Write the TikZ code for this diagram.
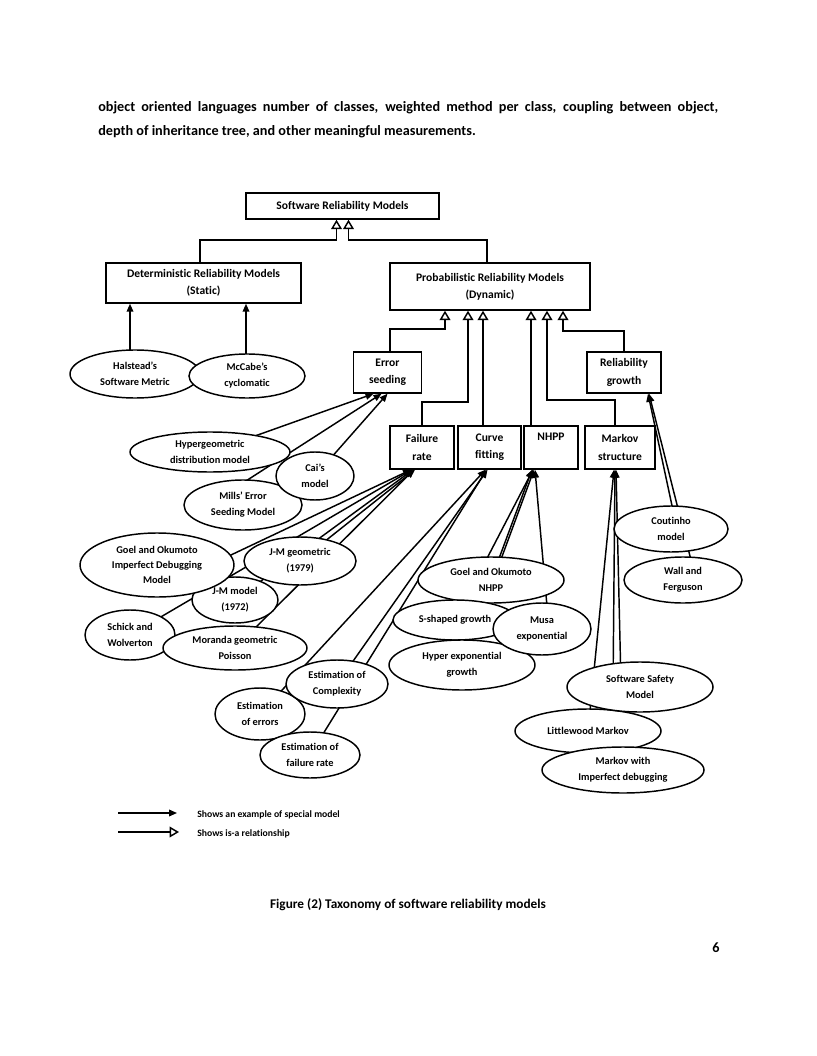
\documentclass[tikz,border=0pt]{standalone}
\usepackage{fontspec}
\setmainfont{Carlito}[Ligatures={NoCommon,NoContextual}]
\usetikzlibrary{arrows.meta,shapes.geometric,calc}
\pgfdeclarelayer{bg}
\pgfsetlayers{bg,main}
\tikzset{
  lw/.style={line width=1.1pt},
  box/.style 2 args={draw, lw, fill=white, inner sep=0pt, align=center,
    font=\fontsize{8.7}{13}\bfseries\selectfont,
    minimum width=#1*0.75bp, minimum height=#2*0.75bp},
  ell/.style 2 args={ellipse, draw, lw, fill=white, inner sep=0pt, align=center,
    font=\fontsize{7.8}{12}\bfseries\selectfont,
    minimum width=#1*1.5bp, minimum height=#2*1.5bp},
  ex/.style={lw, -{Triangle[length=6bp,width=5bp]}},
  isa/.style={lw, -{Triangle[open,length=7bp,width=8bp]}},
  txt/.style={inner sep=0pt}
}
\begin{document}
\begin{tikzpicture}[x=0.75bp,y=-0.75bp]
\useasboundingbox (0,0) rectangle (816,1056);
\begin{pgfonlayer}{bg}
\fill[white] (0,0) rectangle (816,1056);
\end{pgfonlayer}

% body text
\node[txt, anchor=base west, font=\fontsize{10.7}{18}\bfseries\selectfont] (t1) at (98,112)
  {\makebox[465bp][s]{object oriented languages number of classes, weighted method per class, coupling between object,}};
\node[txt, anchor=base west, font=\fontsize{10.7}{18}\bfseries\selectfont] (t2) at (98,136)
  {depth of inheritance tree, and other meaningful measurements.};

% boxes
\node[box={193}{26}] (srm) at (342.5,206) {Software Reliability Models};
\node[box={195}{40}] (det) at (203.5,283) {Deterministic Reliability Models\\(Static)};
\node[box={200}{47}] (prob) at (490,286.5) {Probabilistic Reliability Models\\(Dynamic)};
\node[box={68}{41}] (errs) at (387.5,372.5) {Error\\seeding};
\node[box={74}{41}] (relg) at (624,372.5) {Reliability\\growth};
\node[box={64}{43}] (fail) at (422,447.5) {Failure\\rate};
\node[box={63}{43}] (curve) at (489.5,447.5) {Curve\\fitting};
\node[box={54}{43}] (nhpp) at (551,447.5) {NHPP\\\strut};
\node[box={70}{43}] (markov) at (620,447.5) {Markov\\structure};

% ellipses
\node[ell={65}{24}] (hal) at (135,374) {Halstead's\\Software Metric};
\node[ell={58}{22}] (mcc) at (247,376) {McCabe's\\cyclomatic};
\node[ell={80}{20}] (hyp) at (210,452) {Hypergeometric\\distribution model};
\node[ell={59}{25}] (mills) at (243,505) {Mills' Error\\Seeding Model};
\node[ell={39}{24}] (cai) at (315,476) {Cai's\\model};
\node[ell={43}{23}] (jmm) at (235,600) {J-M model\\(1972)};
\node[ell={45}{25}] (schick) at (130,635) {Schick and\\Wolverton};
\node[ell={77}{32}, font=\fontsize{7.8}{11}\bfseries\selectfont] (goel) at (157,565) {Goel and Okumoto\\Imperfect Debugging\\Model};
\node[ell={56}{24}] (jmg) at (300,561) {J-M geometric\\(1979)};
\node[ell={72}{22}] (moranda) at (235,648) {Moranda geometric\\Poisson};
\node[ell={45}{26}] (eerr) at (260,714) {Estimation\\of errors};
\node[ell={51}{24}] (ecomp) at (337,684) {Estimation of\\Complexity};
\node[ell={50}{23}] (efail) at (310,755) {Estimation of\\failure rate};
\node[ell={73}{23}] (gonhpp) at (491,580) {Goel and Okumoto\\NHPP};
\node[ell={62}{20}] (sshape) at (455,620) {S-shaped growth};
\node[ell={73}{25}] (hyperexp) at (462,665) {Hyper exponential\\growth};
\node[ell={49}{26}] (musa) at (542,629) {Musa\\exponential};
\node[ell={57}{23}] (cout) at (671,529) {Coutinho\\model};
\node[ell={59}{23}] (wall) at (683,580) {Wall and\\Ferguson};
\node[ell={73}{22}] (little) at (588,731) {Littlewood Markov};
\node[ell={73}{25}] (ssm) at (640,687) {Software Safety\\Model};
\node[ell={81}{23}] (mimp) at (623,770) {Markov with\\Imperfect debugging};

% example connectors (under the shapes)
\begin{pgfonlayer}{bg}
\draw[ex] ($(hal.center)+(-5,0)$) -- ($(det.south)+(-73.5,0)$);
\draw[ex] ($(mcc.center)+(-1,0)$) -- ($(det.south)+(42.5,0)$);
\draw[ex] (hyp.center) -- ($(errs.south)+(-14,0)$);
\draw[ex] ($(mills.center)+(-8,-17)$) -- ($(errs.south)+(-6,0)$);
\draw[ex] (cai.center) -- (errs.south);
\draw[ex] ($(goel.center)+(0,25)$) -- ($(fail.south)+(-11,0)$);
\draw[ex] (jmg.center) -- ($(fail.south)+(-7,0)$);
\draw[ex] (jmm.center) -- ($(fail.south)+(-9,0)$);
\draw[ex] (schick.center) -- ($(fail.south)+(-10,0)$);
\draw[ex] (moranda.center) -- ($(fail.south)+(-8,0)$);
\draw[ex] (ecomp.center) -- ($(curve.south)+(-2,0)$);
\draw[ex] (eerr.center) -- ($(curve.south)+(-4,0)$);
\draw[ex] (efail.center) -- ($(curve.south)+(-3,0)$);
\draw[ex] (gonhpp.center) -- ($(nhpp.south)+(-19,0)$);
\draw[ex] (sshape.center) -- ($(nhpp.south)+(-18,0)$);
\draw[ex] (hyperexp.center) -- ($(nhpp.south)+(-17,0)$);
\draw[ex] ($(musa.center)+(7,0)$) -- ($(nhpp.south)+(-16,0)$);
\draw[ex] (little.center) -- ($(markov.south)+(-6,0)$);
\draw[ex] ($(ssm.center)+(-27,0)$) -- ($(markov.south)+(-5,0)$);
\draw[ex] (mimp.center) -- ($(markov.south)+(-4,0)$);
\draw[ex] ($(cout.center)+(6,0)$) -- ($(relg.south)+(24,0)$);
\draw[ex] ($(wall.center)+(13,0)$) -- ($(relg.south)+(25,0)$);
\end{pgfonlayer}

% is-a connectors
\coordinate (jd) at (200,240);
\coordinate (jp) at (487,240);
\draw[isa] (jd |- det.north) -- (jd) -| ($(srm.south)+(-6,0)$);
\draw[isa] (jp |- prob.north) -- (jp) -| ($(srm.south)+(6,0)$);
\coordinate (je) at (390,329);
\draw[isa] (je |- errs.north) -- (je) -| ($(prob.south)+(-45,0)$);
\coordinate (jf) at (422,402);
\draw[isa] (fail.north) -- (jf) -| ($(prob.south)+(-22,0)$);
\draw[isa] ($(curve.north)+(-6.5,0)$) -- ($(prob.south)+(-7,0)$);
\draw[isa] ($(nhpp.north)+(-20,0)$) -- ($(prob.south)+(41,0)$);
\coordinate (jm) at (615,400);
\draw[isa] (jm |- markov.north) -- (jm) -| ($(prob.south)+(57,0)$);
\coordinate (jr) at (624,331);
\draw[isa] (relg.north) -- (jr) -| ($(prob.south)+(73,0)$);

% legend
\coordinate (la1) at (118,813); \coordinate (lb1) at (177,813);
\coordinate (la2) at (118,832); \coordinate (lb2) at (179,832);
\draw[ex] (la1) -- (lb1);
\draw[isa] (la2) -- (lb2);
\node[txt, anchor=west, font=\fontsize{7.3}{9}\bfseries\selectfont] (lg1) at (197,815) {Shows an example of special model};
\node[txt, anchor=west, font=\fontsize{7.3}{9}\bfseries\selectfont] (lg2) at (197,834) {Shows is-a relationship};

% caption and page number
\node[txt, font=\fontsize{10}{12}\bfseries\selectfont] (cap) at (408,905) {Figure (2) Taxonomy of software reliability models};
\node[txt, font=\fontsize{10.7}{12}\bfseries\selectfont] (pg) at (716,948) {6};
\end{tikzpicture}
\end{document}
